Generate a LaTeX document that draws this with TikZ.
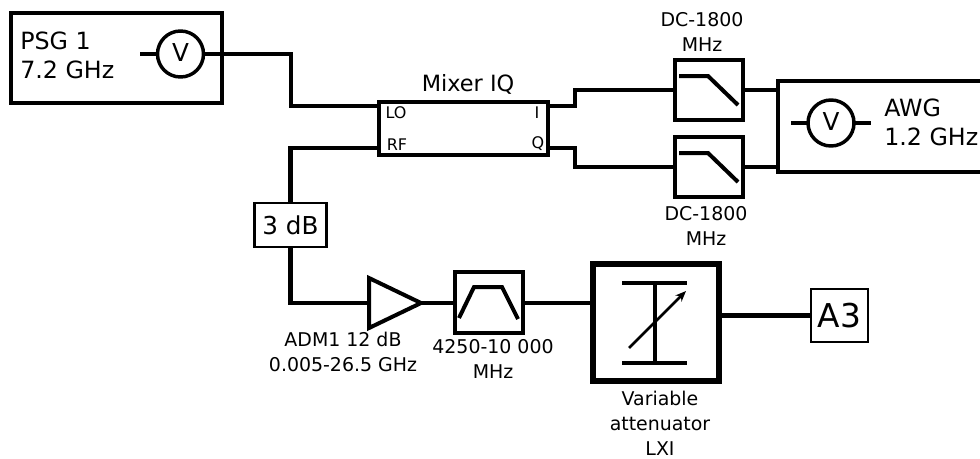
\documentclass[tikz,border=0pt]{standalone}
\usepackage{fontspec}
\setmainfont{DejaVu Sans}
\usetikzlibrary{arrows.meta}
\tikzset{
  x=0.75pt,y=-0.75pt,
  sized/.style 2 args={draw,inner sep=0pt,outer sep=0pt,minimum width=#1*0.75pt,minimum height=#2*0.75pt},
  thinbox/.style={line width=1.7pt},
  medbox/.style={line width=2.3pt},
  heavybox/.style={line width=3pt},
  hugebox/.style={line width=3.9pt},
  wire/.style={line width=3.2pt},
  fatwire/.style={line width=3.6pt},
  sym/.style={line width=3pt},
  meter/.style={draw,circle,inner sep=0pt,outer sep=0pt,minimum size=46*0.75pt,line width=2.6pt,font=\fontsize{18.5}{20}\selectfont},
  lab/.style={align=center,inner sep=0pt,font=\fontsize{14.2}{18.75}\selectfont},
  biglab/.style={align=left,inner sep=0pt,font=\fontsize{17.8}{21.75}\selectfont},
  port/.style={inner sep=0pt,font=\fontsize{12}{14}\selectfont},
}
\begin{document}
\begin{tikzpicture}
\clip (0,0) rectangle (980,458);
\fill[white] (0,0) rectangle (980,458);
% boxes
\node[sized={211}{90},medbox] (psg) at (116.5,58) {};
\node[sized={169}{53},medbox] (mix) at (463.5,128.5) {};
\node[sized={72}{44},thinbox] (db) at (290.5,225) {\fontsize{18.5}{20}\selectfont 3 dB};
\node[sized={68}{60},heavybox] (lp1) at (709,90) {};
\node[sized={68}{60},heavybox] (lp2) at (709,167) {};
\node[sized={230}{91},medbox] (awg) at (893,126.5) {};
\node[sized={68}{61},heavybox] (bp) at (489,302.5) {};
\node[sized={126}{117},hugebox] (att) at (656,322.5) {};
\node[sized={57}{53},thinbox] (a3) at (839.5,315.5) {\fontsize{24.6}{26}\selectfont A3};
\node[meter] (v1) at (180.5,54) {\raisebox{1.8pt}{V}};
\node[meter] (v2) at (831,123) {\raisebox{1.5pt}{V}};
% labels
\node[biglab,anchor=west] (psgt) at (20,54.9) {PSG 1\\7.2 GHz};
\node[biglab,anchor=west] (awgt) at (884,121.9) {AWG\\1.2 GHz};
\node[inner sep=0pt,font=\fontsize{16.8}{20}\selectfont] (mixt) at (468,84) {Mixer IQ};
\node[port] (lot) at (396,113) {LO};
\node[port] (rft) at (397,145) {RF};
\node[port] (it) at (537,113) {I};
\node[port] (qt) at (538,144) {Q};
\node[lab] (lp1t) at (702,32.2) {DC-1800\\MHz};
\node[lab] (lp2t) at (706,225.5) {DC-1800\\MHz};
\node[lab] (ampt) at (343,352.3) {ADM1 12 dB\\0.005-26.5 GHz};
\node[lab] (bpt) at (493,358.5) {4250-10 000\\MHz};
\node[lab] (attt) at (660,422.8) {Variable\\attenuator\\LXI};
% ports and bends
\coordinate (lo) at (379,106);
\coordinate (rf) at (379,148);
\coordinate (iport) at (548,106);
\coordinate (qport) at (548,148);
\coordinate (bend1) at (291,80);
\coordinate (bendi) at (575,98);
\coordinate (bendq) at (575,158);
\coordinate (ampin) at (369,303);
\coordinate (ampout) at (421,303);
% connectors
\draw[fatwire] (v1.east) -| (bend1) |- (lo);
\draw[wire] (rf) -| (db.north);
\draw[wire] (db.south) |- (ampin);
\draw[wire] (ampout) -- (ampout -| bp.west);
\draw[wire] (bp.east |- ampout) -- (ampout -| att.west);
\draw[wire] (att.east |- a3.west) -- (a3.west);
\draw[fatwire] (iport) -| (bendi) |- (lp1.west);
\draw[fatwire] (qport) -| (bendq) |- (lp2.west);
\draw[wire] (lp1.east) -- (lp1.east -| awg.west);
\draw[wire] (lp2.east) -- (lp2.east -| awg.west);
\coordinate (s1) at (140,54);
\coordinate (s2) at (791,123);
\coordinate (s3) at (871,123);
\draw[wire] (s1) -- (v1.west);
\draw[wire] (s2) -- (v2.west);
\draw[wire] (v2.east) -- (s3);
% amplifier
\draw[heavybox,line join=miter] (369,278) -- (ampout) -- (369,328) -- cycle;
% filter symbols
\draw[sym] (679,76) -- (708,76) -- (738,105);
\draw[sym] (679,153) -- (708,153) -- (738,182);
\draw[sym] (459,318) -- (474,287) -- (502,287) -- (518,319);
% attenuator symbol
\draw[sym] (622,283) -- (687,283);
\draw[sym] (622,363) -- (687,363);
\draw[sym] (655,283) -- (655,363);
\draw[line width=2pt,-{Stealth[length=8pt,width=6.5pt]}] (629,348) -- (686,291);
\end{tikzpicture}
\end{document}
